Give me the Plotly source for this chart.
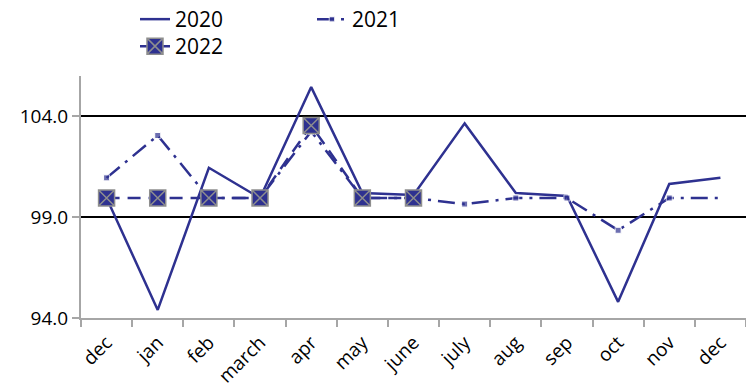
import plotly.graph_objects as go

# ---------------------------------------------------------------------------
# Data
# ---------------------------------------------------------------------------

CATEGORIES = ["dec0", "jan", "feb", "march", "apr", "may", "june",
              "july", "aug", "sep", "oct", "nov", "dec"]
TICK_LABELS = ["dec", "jan", "feb", "march", "apr", "may", "june",
               "july", "aug", "sep", "oct", "nov", "dec"]

S2020 = [99.95, 94.4, 101.45, 99.95, 105.45, 100.2, 100.1,
         103.65, 100.2, 100.05, 94.8, 100.65, 100.95]
S2021 = [100.95, 103.05, 99.95, 99.95, 103.25, 99.95, 99.95,
         99.65, 99.95, 99.95, 98.35, 99.95, 99.95]
S2022 = [99.95, 99.95, 99.95, 99.95, 103.55, 99.95, 99.95]

Y_TICKS = [94, 99, 104]
Y_TICK_TEXT = ["94.0", "99.0", "104.0"]

# ---------------------------------------------------------------------------
# Style
# ---------------------------------------------------------------------------

NAVY = "#2E3190"
GRAY = "#A6A6A6"
MARK_GRAY = "#8E8E8E"
FONT = "Open Sans, sans-serif"
W, H = 746, 392
ML, MR, MT, MB = 81, 0, 76, 74
PW, PH = W - ML - MR, H - MT - MB


def px_x(x):
    """Pixel column -> paper x."""
    return (x - ML) / PW


def px_y(y):
    """Pixel row -> paper y."""
    return (H - MB - y) / PH


fig = go.Figure()

fig.add_trace(go.Scatter(
    x=CATEGORIES, y=S2020, name="2020", mode="lines",
    line=dict(color=NAVY, width=2.5),
    legend="legend",
))

fig.add_trace(go.Scatter(
    x=CATEGORIES, y=S2021, name="2021", mode="lines+markers",
    line=dict(color=NAVY, width=2.5, dash="17px,7px,3px,7px"),
    marker=dict(symbol="square", size=[6] * 12 + [0], color=NAVY),
    legend="legend",
))

fig.add_trace(go.Scatter(
    x=CATEGORIES[:len(S2022)], y=S2022, name="2022", mode="lines+markers",
    line=dict(color=NAVY, width=2.5, dash="13px,8px"),
    marker=dict(symbol="square-x", size=16, color=NAVY,
                line=dict(color=MARK_GRAY, width=1.5)),
    legend="legend2",
))

fig.update_layout(
    width=W,
    height=H,
    margin=dict(l=ML, r=MR, t=MT, b=MB, autoexpand=False),
    paper_bgcolor="white",
    plot_bgcolor="white",
    font=dict(family=FONT, color="#000000"),
    legend=dict(
        orientation="h", x=px_x(135), y=px_y(-1),
        xanchor="left", yanchor="top",
        entrywidth=132, entrywidthmode="pixels",
        font=dict(size=21, family=FONT), bgcolor="rgba(0,0,0,0)",
    ),
    legend2=dict(
        orientation="h", x=px_x(135), y=px_y(26),
        xanchor="left", yanchor="top",
        font=dict(size=21, family=FONT), bgcolor="rgba(0,0,0,0)",
    ),
    xaxis=dict(
        type="category",
        tickmode="array",
        tickvals=CATEGORIES,
        ticktext=TICK_LABELS,
        tickson="boundaries",
        ticks="outside",
        ticklen=7,
        tickwidth=1.5,
        tickcolor=GRAY,
        tickangle=-45,
        ticklabelstandoff=4,
        tickfont=dict(size=19, family=FONT),
        showline=True,
        linecolor=GRAY,
        linewidth=2,
        showgrid=False,
        automargin=False,
        range=[-0.5, 12.5],
    ),
    yaxis=dict(
        range=[94, 106],
        tickmode="array",
        tickvals=Y_TICKS,
        ticktext=Y_TICK_TEXT,
        ticks="outside",
        ticklen=7,
        tickwidth=1.5,
        tickcolor=GRAY,
        tickfont=dict(size=19, family=FONT),
        showline=True,
        linecolor=GRAY,
        linewidth=2,
        showgrid=True,
        gridcolor="#000000",
        gridwidth=1.5,
        zeroline=False,
        automargin=False,
    ),
)

# the page body has a default 8px margin; drop it so the figure sits at 0,0
fig.write_html(
    "out.html",
    config={"displayModeBar": False},
    post_script="document.body.style.margin = '0';",
)
